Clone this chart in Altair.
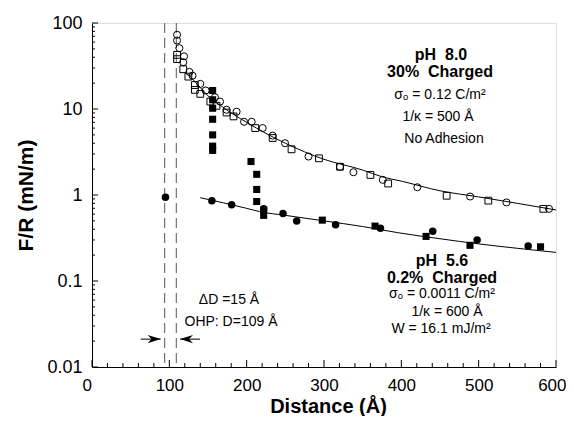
import altair as alt
import pandas as pd

# ---- data ----
# pH 8.0 open circles
oc_x = [110, 110, 113, 119, 118, 126, 130, 140, 147, 159, 165.5, 174, 187, 196.6, 206.5,
        220.7, 233.6, 249.6, 280, 320.7, 338, 376, 420.7, 489, 536, 591]
oc_y = [73, 62.5, 51, 41, 35, 27, 24.4, 19.6, 16.4, 13.7, 12.2, 9.8, 9.3, 7.1, 7.1,
        6.0, 4.9, 4.0, 2.8, 2.13, 1.84, 1.5, 1.23, 0.96, 0.82, 0.69]
# pH 8.0 open squares
os_x = [110, 110, 118, 124.6, 133, 133, 140, 153, 161, 174, 183, 211, 233.6, 258,
        293.5, 320.7, 360, 383, 458.6, 512.5, 583.6]
os_y = [42.6, 38, 29, 23.8, 19, 16.7, 15, 12.2, 10.9, 9.1, 8.2, 6.0, 4.6, 3.4,
        2.67, 2.13, 1.71, 1.36, 0.98, 0.86, 0.69]
# pH 5.6 filled squares
fs_x = [156, 156, 156, 156, 156, 156, 156, 205.6, 213, 213, 213, 222, 222,
        297.8, 366, 432, 488.8, 580]
fs_y = [16.4, 12.8, 10.2, 7.6, 5.0, 3.7, 3.3, 2.45, 1.74, 1.16, 0.84, 0.67, 0.58,
        0.51, 0.435, 0.33, 0.26, 0.25]
# pH 5.6 filled circles
fc_x = [95, 155, 180.6, 222, 247, 264.7, 315, 373, 440.6, 498, 564]
fc_y = [0.94, 0.86, 0.77, 0.69, 0.61, 0.50, 0.45, 0.41, 0.38, 0.30, 0.255]
# fitted curves
up_x = [125, 140, 150, 165, 180, 200, 225, 250, 300, 350, 375, 400, 450, 500, 550, 600]
up_y = [25, 17.8, 14.2, 11.2, 9.0, 7.0, 5.2, 4.0, 2.6, 1.95, 1.63, 1.45, 1.12, 0.95, 0.8, 0.67]
lo_x = [140, 200, 217, 250, 300, 350, 396, 450, 500, 550, 600]
lo_y = [0.93, 0.70, 0.64, 0.58, 0.50, 0.43, 0.364, 0.31, 0.27, 0.24, 0.215]
# OHP dashed lines and arrows
ohp_x = [94, 109]
arrow_y = [0.0211]
arrowL = [62.9, 88.8]   # start, tip
arrowR = [139.7, 113.8]  # start, tip
# ticks
x_major = [0, 100, 200, 300, 400, 500, 600]
x_minor = [v for v in range(0, 601, 20) if v % 100 != 0]
y_major = [0.01, 0.1, 1, 10, 100]
y_minor = [m * d for d in [0.01, 0.1, 1, 10] for m in range(2, 10)]

FONT = "Liberation Sans"
W, H = 464, 344
NB = "\u00a0"

xs = alt.Scale(domain=[0, 600], nice=False, zero=False)
ys = alt.Scale(type="log", domain=[0.01, 100], nice=False)

xaxis = alt.Axis(values=x_major, ticks=False, tickSize=0, grid=False, labelFont=FONT,
                 labelFontSize=17, labelColor="black", labelPadding=10, labelFlush=True,
                 labelFlushOffset=10,
                 domainColor="black", titleFont=FONT, titleFontSize=20,
                 titleFontWeight="bold", titleColor="black", titleX=236, titleY=45,
                 titleBaseline="alphabetic")
yaxis = alt.Axis(values=y_major, format="~g", ticks=False, tickSize=0, grid=False,
                 labelFont=FONT, labelFontSize=18, labelColor="black", labelPadding=10,
                 labelFlush=False,
                 domainColor="black", titleFont=FONT, titleFontSize=21,
                 titleFontWeight="bold", titleColor="black", titleX=-60, titleY=172,
                 titleBaseline="alphabetic")


def X(field):
    return alt.X(field, type="quantitative", scale=xs, axis=xaxis, title="Distance (Å)")


def Y(field):
    return alt.Y(field, type="quantitative", scale=ys, axis=yaxis, title="F/R (mN/m)")


def pts(xv, yv):
    return pd.DataFrame({"d": xv, "f": yv})


layers = []

# dashed OHP lines
layers.append(alt.Chart(pd.DataFrame({"d": ohp_x})).mark_rule(
    color="#555", strokeWidth=1, strokeDash=[10, 5]).encode(x=X("d")))

# fitted curves
layers.append(alt.Chart(pts(up_x, up_y)).mark_line(
    color="black", strokeWidth=1, interpolate="monotone").encode(x=X("d"), y=Y("f")))
layers.append(alt.Chart(pts(lo_x, lo_y)).mark_line(
    color="black", strokeWidth=1, interpolate="monotone").encode(x=X("d"), y=Y("f")))

# markers
layers.append(alt.Chart(pts(oc_x, oc_y)).mark_point(
    shape="circle", filled=False, color="black", size=50, strokeWidth=1, opacity=1
).encode(x=X("d"), y=Y("f")))
layers.append(alt.Chart(pts(os_x, os_y)).mark_point(
    shape="square", filled=False, color="black", size=46, strokeWidth=1, opacity=1
).encode(x=X("d"), y=Y("f")))
layers.append(alt.Chart(pts(fs_x, fs_y)).mark_point(
    shape="square", filled=True, color="black", size=50, opacity=1
).encode(x=X("d"), y=Y("f")))
layers.append(alt.Chart(pts(fc_x, fc_y)).mark_point(
    shape="circle", filled=True, color="black", size=56, opacity=1
).encode(x=X("d"), y=Y("f")))

# arrows
for seg, path in [(arrowL, "M0,0 L-2,-0.62 L-1.4,0 L-2,0.62 Z"),
                  (arrowR, "M0,0 L2,-0.62 L1.4,0 L2,0.62 Z")]:
    layers.append(alt.Chart(pd.DataFrame({"d": [seg[0]], "d2": [seg[1]], "f": arrow_y}))
                  .mark_rule(color="black", strokeWidth=1)
                  .encode(x=X("d"), x2="d2:Q", y=Y("f")))
    layers.append(alt.Chart(pd.DataFrame({"d": [seg[1]], "f": arrow_y}))
                  .mark_point(shape=path, filled=True, color="black", size=169, opacity=1)
                  .encode(x=X("d"), y=Y("f")))

# inward ticks
layers.append(alt.Chart(pd.DataFrame({"d": x_major})).mark_rule(color="black", strokeWidth=1)
              .encode(x=X("d"), y=alt.value(H), y2=alt.value(H - 7)))
layers.append(alt.Chart(pd.DataFrame({"d": x_minor})).mark_rule(color="black", strokeWidth=1)
              .encode(x=X("d"), y=alt.value(H), y2=alt.value(H - 4)))
layers.append(alt.Chart(pd.DataFrame({"f": y_major})).mark_rule(color="black", strokeWidth=1)
              .encode(y=Y("f"), x=alt.value(0), x2=alt.value(6)))
layers.append(alt.Chart(pd.DataFrame({"f": y_minor})).mark_rule(color="black", strokeWidth=1)
              .encode(y=Y("f"), x=alt.value(0), x2=alt.value(3)))

# annotations
texts = [
    ("pH" + NB + NB + "8.0", 349, 32, 16, "bold"),
    ("30%" + NB + NB + "Charged", 348, 49, 16, "bold"),
    ("σₒ = 0.12 C/m²", 348, 72, 14, "normal"),
    ("1/κ = 500 Å", 346, 94, 14, "normal"),
    ("No Adhesion", 352, 116, 14, "normal"),
    ("pH" + NB + NB + "5.6", 350, 238, 16, "bold"),
    ("0.2%" + NB + NB + "Charged", 350, 255, 16, "bold"),
    ("σₒ = 0.0011 C/m²", 350, 271, 14, "normal"),
    ("1/κ = 600 Å", 355, 289, 14, "normal"),
    ("W = 16.1 mJ/m²", 349, 306, 14, "normal"),
    ("ΔD =15 Å", 137, 277, 14, "normal"),
    ("OHP: D=109 Å", 139, 299, 14, "normal"),
]
for t, px, py, fs, fw in texts:
    layers.append(alt.Chart(pd.DataFrame({"t": [t]})).mark_text(
        font=FONT, fontSize=fs, fontWeight=fw, color="black", align="center",
        baseline="middle").encode(text="t:N", x=alt.value(px), y=alt.value(py)))

chart = alt.layer(*layers).properties(
    width=W, height=H,
    autosize=alt.AutoSizeParams(type="none"),
    padding={"left": 84, "top": 15, "right": 10, "bottom": 49},
).configure_view(stroke="black", strokeWidth=1).configure(background="white")

chart.save("out.html", embed_options={"renderer": "svg", "actions": False})
